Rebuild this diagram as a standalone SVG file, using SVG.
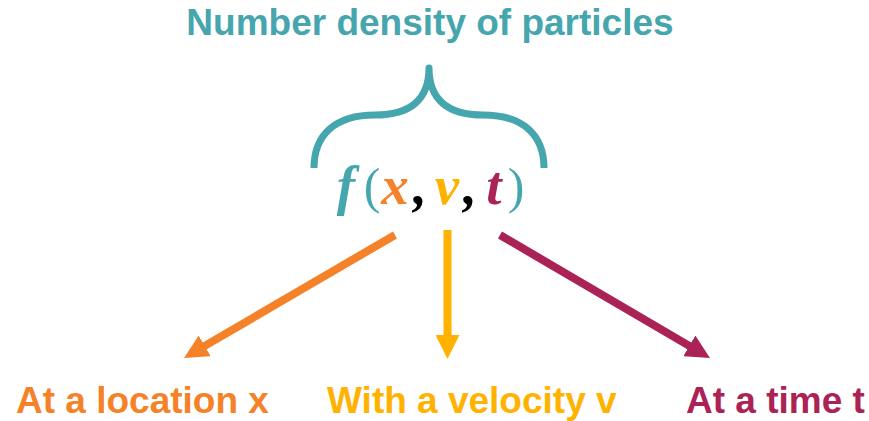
<svg xmlns="http://www.w3.org/2000/svg" width="869" height="421" viewBox="0 0 869 421">
<style>
.lbl{font-family:"Liberation Sans",Arial,sans-serif;font-weight:bold;font-size:37px}
.m{font-family:"Liberation Serif","Times New Roman",serif;font-weight:bold;font-style:italic;font-size:55px;text-anchor:middle}
.p{font-family:"Liberation Serif","Times New Roman",serif;font-size:50px;text-anchor:middle;fill:#46A6AE}
.teal{fill:#46A6AE}.org{fill:#F58228}.yel{fill:#FFB300}.crm{fill:#AB2356}
</style>
<defs>
<marker id="hO" viewBox="0 0 24 24" markerWidth="24" markerHeight="24" refX="2" refY="12" orient="auto" markerUnits="userSpaceOnUse"><path d="M0,0 L24,12 L0,24 z" fill="#F58228"/></marker>
<marker id="hY" viewBox="0 0 24 24" markerWidth="24" markerHeight="24" refX="2" refY="12" orient="auto" markerUnits="userSpaceOnUse"><path d="M0,0 L24,12 L0,24 z" fill="#FFB300"/></marker>
<marker id="hC" viewBox="0 0 24 24" markerWidth="24" markerHeight="24" refX="2" refY="12" orient="auto" markerUnits="userSpaceOnUse"><path d="M0,0 L24,12 L0,24 z" fill="#AB2356"/></marker>
</defs>
<g id="title"><text class="lbl teal" x="430" y="35" text-anchor="middle">Number density of particles</text></g>
<g id="brace"><path d="M314,168 C314,135 335,115 375,115 C410,115 429,100 429,68 C429,100 448,115 483,115 C523,115 544,135 544,168" fill="none" stroke="#46A6AE" stroke-width="7" stroke-linejoin="round"/></g>
<g id="formula">
<text class="m teal" x="346" y="204">f</text>
<text class="p" x="372" y="203">(</text>
<text class="m org" x="395" y="204">x</text>
<text class="m" x="420" y="204" fill="#000">,</text>
<text class="m yel" x="447" y="204">v</text>
<text class="m" x="470" y="204" fill="#000">,</text>
<text class="m crm" x="494" y="204">t</text>
<text class="p" x="516" y="203">)</text>
</g>
<g id="connectors" fill="none" stroke-width="8">
<line x1="395" y1="235" x2="203" y2="346.9" stroke="#F58228" marker-end="url(#hO)"/>
<line x1="447.5" y1="230" x2="447.5" y2="337" stroke="#FFB300" marker-end="url(#hY)"/>
<line x1="500" y1="235" x2="691" y2="346.9" stroke="#AB2356" marker-end="url(#hC)"/>
</g>
<g id="label-location"><text class="lbl org" x="16" y="413">At a location x</text></g>
<g id="label-velocity"><text class="lbl yel" x="327" y="413">With a velocity v</text></g>
<g id="label-time"><text class="lbl crm" x="686" y="413">At a time t</text></g>
</svg>
